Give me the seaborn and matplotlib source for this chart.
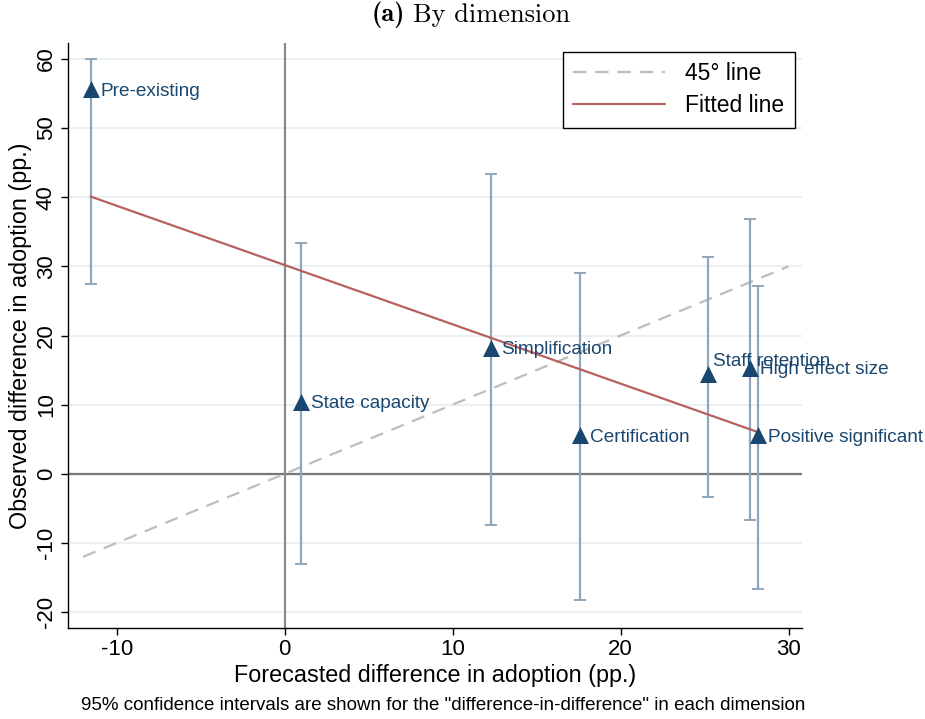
import numpy as np
import pandas as pd
import matplotlib
matplotlib.use("Agg")
import matplotlib.pyplot as plt
from matplotlib.lines import Line2D
import seaborn as sns

# ---- data ----
labels = ["Pre-existing", "State capacity", "Simplification", "Certification",
          "Staff retention", "High effect size", "Positive significant"]
forecast = [-11.55, 1.0, 12.3, 17.6, 25.2, 27.7, 28.2]
observed = [55.6, 10.4, 18.2, 5.6, 14.5, 15.3, 5.6]
ci_low = [27.5, -13.0, -7.4, -18.2, -3.3, -6.7, -16.6]
ci_high = [60.0, 33.4, 43.4, 29.1, 31.4, 36.9, 27.1]
diag_x = [-12, 30]
xticks = [-10, 0, 10, 20, 30]
yticks = [-20, -10, 0, 10, 20, 30, 40, 50, 60]

df = pd.DataFrame({"label": labels, "x": forecast, "y": observed,
                   "lo": ci_low, "hi": ci_high})
diag = pd.DataFrame({"x": diag_x, "y": diag_x})

sns.set_theme(style="white")
plt.rcParams["font.family"] = ["Liberation Sans", "DejaVu Sans"]
plt.rcParams["mathtext.fontset"] = "cm"
plt.rcParams["axes.unicode_minus"] = False
for k in ["text.color", "axes.labelcolor", "xtick.color", "ytick.color"]:
    plt.rcParams[k] = "black"

navy = "#1a476f"
ci_col = "#8fa6bd"
fit_col = "#b5615f"
diag_col = "#bdbdbd"

fig = plt.figure(figsize=(9.25, 7.19), dpi=100)
ax = fig.add_axes([68/925, 1-628/719, (802-68)/925, (628-43)/719])

# grid
for yt in yticks:
    ax.axhline(yt, color="#eaf1f3", lw=1.5, zorder=0)
ax.axhline(0, color="#777777", lw=1.6, zorder=1)
ax.axvline(0, color="#8a8a8a", lw=1.6, zorder=1)

# 45 degree line
sns.lineplot(data=diag, x="x", y="y", ax=ax, color=diag_col, lw=1.6,
             linestyle=(0, (6, 4)), zorder=2)

# CIs
ax.errorbar(df["x"], df["y"], yerr=[df["y"] - df["lo"], df["hi"] - df["y"]],
            fmt="none", ecolor=ci_col, elinewidth=1.6, capsize=4.5,
            capthick=1.4, zorder=3)

# fitted line
sns.regplot(data=df, x="x", y="y", ax=ax, scatter=False, ci=None,
            line_kws=dict(color=fit_col, lw=1.6, zorder=4))

# markers
sns.scatterplot(data=df, x="x", y="y", ax=ax, marker="^", s=150,
                color=navy, edgecolor=navy, linewidth=0, zorder=5)

offsets = {"Staff retention": (5, 12)}
for _, r in df.iterrows():
    dx, dy = offsets.get(r["label"], (10, -2))
    ax.annotate(r["label"], (r["x"], r["y"]), xytext=(dx, dy),
                textcoords="offset pixels", ha="left", va="center",
                fontsize=13.7, color=navy, zorder=6)

ax.set_xlim(-12.9, 30.8)
ax.set_ylim(-22.3, 62.3)
ax.set_xticks(xticks)
ax.set_yticks(yticks)
ax.tick_params(axis="both", which="both", direction="out", length=5,
               width=1, color="black", labelsize=16, bottom=True, left=True,
               pad=3)
for lab in ax.get_yticklabels():
    lab.set_rotation(90)
    lab.set_va("center")
for s in ["top", "right"]:
    ax.spines[s].set_visible(False)
for s in ["left", "bottom"]:
    ax.spines[s].set_color("black")
    ax.spines[s].set_linewidth(1)

ax.set_xlabel("Forecasted difference in adoption (pp.)", fontsize=16.8, labelpad=3)
ax.set_ylabel("Observed difference in adoption (pp.)", fontsize=16.8, labelpad=3)

handles = [Line2D([], [], color=diag_col, lw=1.6, linestyle=(0, (6, 4))),
           Line2D([], [], color=fit_col, lw=1.6)]
leg = ax.legend(handles, ["45° line", "Fitted line"], loc="upper right",
                bbox_to_anchor=(0.99, 0.985), borderaxespad=0, fontsize=16.5,
                frameon=True, fancybox=False, framealpha=1, edgecolor="black",
                handlelength=4.0, handletextpad=0.9, borderpad=0.45,
                labelspacing=0.4)
leg.get_frame().set_linewidth(1)

fig.text(405/925, 1-15/719, "(a)", family=["cmb10", "DejaVu Serif"],
         ha="right", va="center", fontsize=19)
fig.text(413/925, 1-15/719, "By dimension", family=["cmr10", "DejaVu Serif"],
         ha="left", va="center", fontsize=19)
fig.text(0.479, 1-706/719,
         '95% confidence intervals are shown for the "difference-in-difference" in each dimension',
         ha="center", va="center", fontsize=13.5)

fig.savefig("out.png", dpi=100)
